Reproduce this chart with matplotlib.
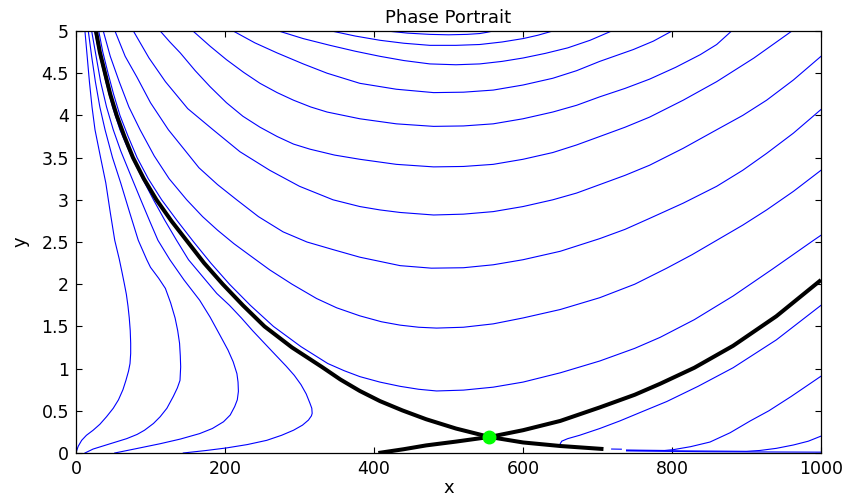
import matplotlib
matplotlib.use("Agg")
import matplotlib.pyplot as plt

# left-hand trajectories (below the stable separatrix)
l1_x = [0, 1, 3, 7.6, 14, 23, 32, 41, 50, 57, 63, 67, 70.5, 72.5, 73.4, 73.4, 72.8, 71.5, 69.8, 67.6,
        65, 61.8, 58, 52, 46, 40, 33, 25.5, 21.5, 18, 15, 12]
l1_y = [0, 0.03, 0.08, 0.15, 0.21, 0.27, 0.34, 0.43, 0.53, 0.63, 0.75, 0.86, 0.97, 1.06, 1.18, 1.3, 1.45,
        1.6, 1.74, 1.88, 2.0, 2.14, 2.3, 2.52, 2.85, 3.2, 3.5, 3.83, 4.1, 4.4, 4.7, 5.0]
l2_x = [12, 23, 46, 68, 82, 92, 104, 113, 122, 130.6, 136, 139.6, 140.5, 140, 139, 136.5, 133, 127, 120,
        111, 100, 95, 83.6, 72, 60, 49, 39, 32, 26, 21, 16.5]
l2_y = [0, 0.047, 0.11, 0.17, 0.22, 0.27, 0.35, 0.43, 0.53, 0.67, 0.77, 0.86, 1.02, 1.15, 1.3, 1.45, 1.6,
        1.78, 1.95, 2.07, 2.2, 2.29, 2.52, 2.85, 3.2, 3.5, 3.83, 4.1, 4.4, 4.7, 5.0]
l3_x = [52, 80, 113, 140, 166, 183, 198, 207, 213, 216.5, 218, 217.5, 216, 211, 204, 193, 180, 166, 145,
        126, 110, 99.3, 86, 72, 60, 50, 41, 33, 27, 21]
l3_y = [0, 0.05, 0.11, 0.165, 0.23, 0.29, 0.37, 0.45, 0.55, 0.63, 0.73, 0.84, 0.94, 1.08, 1.22, 1.4, 1.61,
        1.81, 2.05, 2.29, 2.52, 2.74, 3.02, 3.32, 3.58, 3.83, 4.1, 4.4, 4.7, 5.0]
l4_x = [144, 175, 202, 230, 256, 276, 292, 304, 312, 316, 317, 316.5, 314, 309, 302, 293, 282, 268, 253,
        237, 222, 206, 189, 170, 151, 135, 119, 104, 91, 78, 68, 59, 49, 40, 32, 25]
l4_y = [0, 0.03, 0.06, 0.1, 0.15, 0.21, 0.27, 0.33, 0.39, 0.44, 0.47, 0.53, 0.59, 0.7, 0.81, 0.92, 1.03,
        1.16, 1.3, 1.45, 1.6, 1.75, 1.89, 2.09, 2.29, 2.52, 2.76, 3.0, 3.22, 3.45, 3.64, 3.83, 4.1, 4.4,
        4.7, 5.0]

# U-shaped trajectories above the saddle
u1_x = [417, 445, 475, 500, 525, 542, 552, 560]
u1_y = [5.0, 4.975, 4.96, 4.955, 4.96, 4.97, 4.985, 5.0]
u2_x = [343, 375, 408, 440, 475, 510, 542, 572, 600, 620, 640]
u2_y = [5.0, 4.94, 4.89, 4.855, 4.83, 4.83, 4.84, 4.87, 4.91, 4.95, 5.0]
u3_x = [272, 305, 341, 375, 408, 440, 475, 510, 542, 572, 600, 630, 660, 690, 719]
u3_y = [5.0, 4.91, 4.83, 4.76, 4.70, 4.65, 4.61, 4.60, 4.61, 4.64, 4.68, 4.735, 4.80, 4.89, 5.0]
u4_x = [211, 240, 270, 305, 337, 381, 430, 480, 520, 560, 600, 640, 672, 703, 748, 775, 800]
u4_y = [5.0, 4.86, 4.74, 4.61, 4.50, 4.38, 4.31, 4.27, 4.275, 4.30, 4.36, 4.44, 4.53, 4.64, 4.78,
        4.88, 5.0]
u5_x = [157, 180, 202, 225, 247, 270, 292, 315, 337, 381, 430, 480, 520, 560, 600, 640, 672, 703, 737,
        770, 805, 838, 860, 880]
u5_y = [5.0, 4.82, 4.66, 4.51, 4.38, 4.27, 4.18, 4.1, 4.04, 3.96, 3.9, 3.87, 3.875, 3.90, 3.96, 4.04,
        4.12, 4.22, 4.32, 4.43, 4.57, 4.72, 4.84, 5.0]
u6_x = [113, 126, 140, 160, 180, 202, 224, 247, 270, 292, 314, 347, 381, 430, 480, 520, 560, 600, 640,
        672, 703, 737, 770, 815, 860, 910, 961]
u6_y = [5.0, 4.87, 4.74, 4.53, 4.34, 4.15, 3.99, 3.86, 3.75, 3.66, 3.6, 3.53, 3.48, 3.42, 3.39, 3.395,
        3.42, 3.48, 3.56, 3.65, 3.75, 3.86, 3.98, 4.18, 4.40, 4.68, 5.0]
u7_x = [77, 98, 120, 150, 184, 220, 260, 300, 345, 381, 408, 435, 480, 520, 560, 600, 640, 672, 703,
        737, 770, 815, 860, 895, 927, 963, 1000]
u7_y = [5.0, 4.68, 4.4, 4.08, 3.83, 3.57, 3.35, 3.16, 3.0, 2.92, 2.88, 2.85, 2.82, 2.83, 2.86, 2.92,
        3.0, 3.08, 3.18, 3.29, 3.41, 3.61, 3.83, 4.0, 4.18, 4.42, 4.70]
u8_x = [52.3, 66, 82, 100, 124, 145, 165, 190, 215.7, 245, 278, 310, 345, 381, 435, 477, 520, 560, 600,
        650, 703, 737, 770, 815, 860, 895, 927, 963, 1000]
u8_y = [5.0, 4.7, 4.45, 4.15, 3.83, 3.6, 3.38, 3.18, 3.0, 2.8, 2.62, 2.5, 2.41, 2.32, 2.22, 2.19,
        2.195, 2.23, 2.29, 2.39, 2.54, 2.65, 2.78, 2.96, 3.16, 3.35, 3.55, 3.79, 4.07]
u9_x = [36.6, 46, 58, 71, 86, 105, 125, 148.6, 170, 190, 212, 233.6, 260, 290, 323, 350, 381, 410, 435,
        460, 484, 520, 560, 600, 650, 703, 750, 793, 827, 860, 895, 927, 963, 1000]
u9_y = [5.0, 4.7, 4.4, 4.1, 3.83, 3.52, 3.25, 3.0, 2.8, 2.64, 2.48, 2.34, 2.17, 2.0, 1.83, 1.72, 1.625,
        1.555, 1.515, 1.49, 1.48, 1.49, 1.53, 1.6, 1.7, 1.84, 2.0, 2.19, 2.35, 2.52, 2.7, 2.88, 3.1, 3.35]
u10_x = [30.5, 36, 43, 50.5, 59, 70, 82, 97, 115, 136, 158, 181, 206, 234, 265, 302, 338, 360, 381, 408,
         435, 460, 484, 520, 560, 600, 650, 703, 750, 784, 830, 882, 935, 990, 1000]
u10_y = [5.0, 4.75, 4.5, 4.25, 4.0, 3.75, 3.5, 3.25, 3.0, 2.75, 2.5, 2.25, 2.0, 1.75, 1.5, 1.26, 1.06,
         0.975, 0.905, 0.84, 0.79, 0.755, 0.735, 0.745, 0.78, 0.84, 0.95, 1.09, 1.24, 1.37, 1.58, 1.86,
         2.18, 2.52, 2.58]

# trajectories below the unstable separatrix, right side
r1_x = [650, 652, 660, 676, 703, 730, 760, 793, 835, 882, 940, 1000]
r1_y = [0.11, 0.14, 0.17, 0.21, 0.29, 0.38, 0.49, 0.61, 0.79, 1.01, 1.34, 1.75]
r2_x = [739, 790, 802, 825, 851, 878, 905, 930, 960, 1000]
r2_y = [0.035, 0.03, 0.04, 0.075, 0.13, 0.24, 0.38, 0.5, 0.67, 0.91]
r3_x = [739, 900, 918, 940, 963, 983, 1000]
r3_y = [0.03, 0.02, 0.03, 0.055, 0.095, 0.14, 0.2]
r4_x = [739, 850, 1000]
r4_y = [0.025, 0.015, 0.01]
dash_x = [719, 732]
dash_y = [0.047, 0.045]

# separatrices and saddle
stable_x = [26.8, 32, 39, 46, 54.6, 65, 76.5, 91, 108, 128, 150, 172, 197, 224, 253, 290, 330, 355, 381,
            408, 438, 470, 510, 555, 600, 650, 708]
stable_y = [5, 4.75, 4.5, 4.25, 4, 3.75, 3.5, 3.25, 3, 2.75, 2.5, 2.25, 2, 1.75, 1.5, 1.25, 1.02, 0.87,
            0.735, 0.615, 0.505, 0.40, 0.29, 0.19, 0.125, 0.083, 0.047]
unstable_x = [405.8, 440, 470, 510, 555, 600, 650, 703, 750, 784, 830, 882, 940, 1000]
unstable_y = [0, 0.045, 0.09, 0.135, 0.19, 0.27, 0.38, 0.54, 0.69, 0.82, 1.01, 1.27, 1.62, 2.05]
saddle = (555, 0.19)

blue_curves = [
    (l1_x, l1_y), (l2_x, l2_y), (l3_x, l3_y), (l4_x, l4_y),
    (u1_x, u1_y), (u2_x, u2_y), (u3_x, u3_y), (u4_x, u4_y), (u5_x, u5_y),
    (u6_x, u6_y), (u7_x, u7_y), (u8_x, u8_y), (u9_x, u9_y), (u10_x, u10_y),
    (r1_x, r1_y), (r2_x, r2_y), (r3_x, r3_y), (r4_x, r4_y), (dash_x, dash_y),
]

plt.rcParams['font.family'] = ['DejaVu Sans']

fig = plt.figure(figsize=(8.51, 4.99), dpi=100)
ax = fig.add_axes([76 / 851, 1 - 453 / 499, 745 / 851, 422 / 499])

for cx, cy in blue_curves:
    ax.plot(cx, cy, color='#0000ff', lw=0.8, solid_joinstyle='round')

ax.plot(stable_x, stable_y, color='black', lw=2.9, solid_capstyle='butt', solid_joinstyle='round')
ax.plot(unstable_x, unstable_y, color='black', lw=2.9, solid_capstyle='butt', solid_joinstyle='round')
ax.plot(saddle[0], saddle[1], 'o', color='#00ff00', ms=9, mec='#00ff00')

ax.set_xlim(0, 1000)
ax.set_ylim(0, 5)
ax.set_xticks([0, 200, 400, 600, 800, 1000])
ax.set_yticks([0, 0.5, 1, 1.5, 2, 2.5, 3, 3.5, 4, 4.5, 5])
ax.set_yticklabels(['0', '0.5', '1', '1.5', '2', '2.5', '3', '3.5', '4', '4.5', '5'])
ax.tick_params(direction='in', top=True, right=True, length=4, width=0.8,
               labelsize=12.5, pad=5)
for s in ax.spines.values():
    s.set_linewidth(0.9)

ax.set_title('Phase Portrait', fontsize=13, pad=6)
ax.set_xlabel('x', fontsize=13, labelpad=1)
ax.set_ylabel('y', fontsize=13, labelpad=9)

fig.savefig('out.png', dpi=100)
